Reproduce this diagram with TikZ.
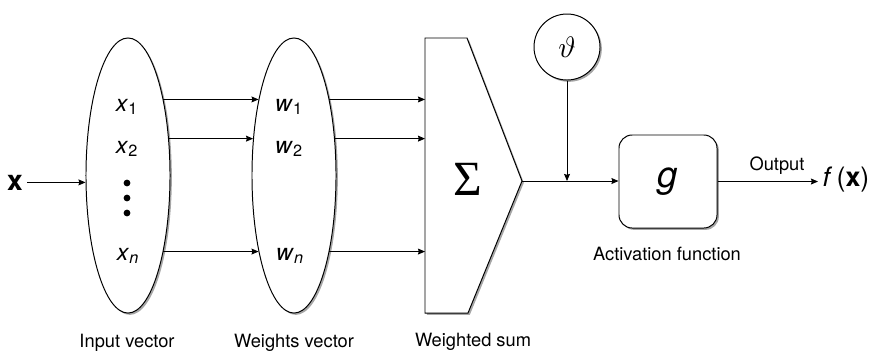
\documentclass[tikz,border=0pt]{standalone}
\usepackage{fontspec}
\setmainfont{TeX Gyre Heros}
\newfontfamily\sumfont{Liberation Serif}
\usetikzlibrary{shapes.geometric,arrows.meta,positioning,shadows}
\tikzset{
  shad/.style={drop shadow={shadow xshift=1.3pt, shadow yshift=-1.3pt, fill=black!35, opacity=1}},
  vecell/.style={ellipse, draw, fill=white, line width=0.7pt, minimum width=2.1cm, minimum height=6.875cm, inner sep=0pt, shad},
  sumbox/.style={draw, fill=white, line width=0.7pt, line join=miter, shad},
  biasnode/.style={circle, draw, fill=white, line width=0.7pt, minimum size=1.65cm, inner sep=0pt, shad},
  actbox/.style={rectangle, rounded corners=0.33cm, draw, fill=white, line width=0.7pt, minimum width=2.45cm, minimum height=2.325cm, shad, font=\fontsize{26}{26}\selectfont\itshape},
  entry/.style={anchor=base, inner sep=0pt, font=\fontsize{16.5}{16.5}\selectfont},
  dotnode/.style={circle, fill=black, inner sep=0pt, minimum size=0.17cm},
  lbl/.style={anchor=base, inner sep=0pt, font=\fontsize{13}{15}\selectfont},
  arr/.style={-{Stealth[length=5pt, width=4.2pt, inset=0.6pt]}, line width=0.6pt}
}

\begin{document}
\begin{tikzpicture}[x=0.025cm, y=-0.025cm]
\useasboundingbox (0,0) rectangle (873,351);

% input and weights
\node[vecell] (inp) at (128,175.5) {};
\node[vecell] (wts) at (294,175.5) {};
\node[anchor=base, inner sep=3pt, font=\fontsize{20}{20}\selectfont] (xin) at (15,190) {\textbf{x}};
\draw[arr] (xin.east) -- (xin.east -| inp.west);

\node[entry] (x1) at (127,111) {\textit{x}\textsubscript{1}};
\node[entry] (x2) at (127,153) {\textit{x}\textsubscript{2}};
\node[entry] (xn) at (128,260) {\textit{x}\textsubscript{\textit{n}}};
\foreach \yy in {183,198,213}
  \node[dotnode] (d\yy) at (127,\yy) {};
\node[entry] (w1) at (289,111) {\textit{w}\textsubscript{1}};
\node[entry] (w2) at (289,153) {\textit{w}\textsubscript{2}};
\node[entry] (wn) at (290,260) {\textit{w}\textsubscript{\textit{n}}};

% weighted sum
\coordinate (stl) at (425,38);
\coordinate (str) at (467,38);
\coordinate (tip) at (522,181);
\coordinate (sbr) at (468,313);
\coordinate (sbl) at (425,313);
\draw[sumbox] (stl) -- (str) -- (tip) -- (sbr) -- (sbl) -- cycle;
\node[anchor=base, inner sep=0pt, font=\sumfont\fontsize{35}{35}\selectfont] (sigma) at (467.5,195) {Σ};

\foreach \a in {65,42,-65} {
  \draw[arr] (inp.\a) -- (wts.{180-\a});
  \draw[arr] (wts.\a) -- (wts.\a -| stl);
}

% bias and activation
\node[biasnode] (theta) at (567,47) {\scalebox{2.1}{$\vartheta$}};
\node[actbox] (act) at (668,181.5) {g};
\coordinate (join) at (theta.south |- tip);
\draw[arr] (theta) -- (join);
\draw[arr] (tip) -- (tip -| act.west);

\node[anchor=base west, inner sep=3pt, font=\fontsize{19}{19}\selectfont] (fx) at (818,186) {\textit{f}\,(\textbf{x})};
\draw[arr] (act.east) -- (act.east -| fx.west);
\node[lbl] (out) at (777,170) {Output};

% captions
\node[lbl] (cap1) at (127,347) {Input vector};
\node[lbl] (cap2) at (294,347) {Weights vector};
\node[lbl] (cap3) at (473,346) {Weighted sum};
\node[lbl] (cap4) at (667,260) {Activation function};
\end{tikzpicture}
\end{document}
